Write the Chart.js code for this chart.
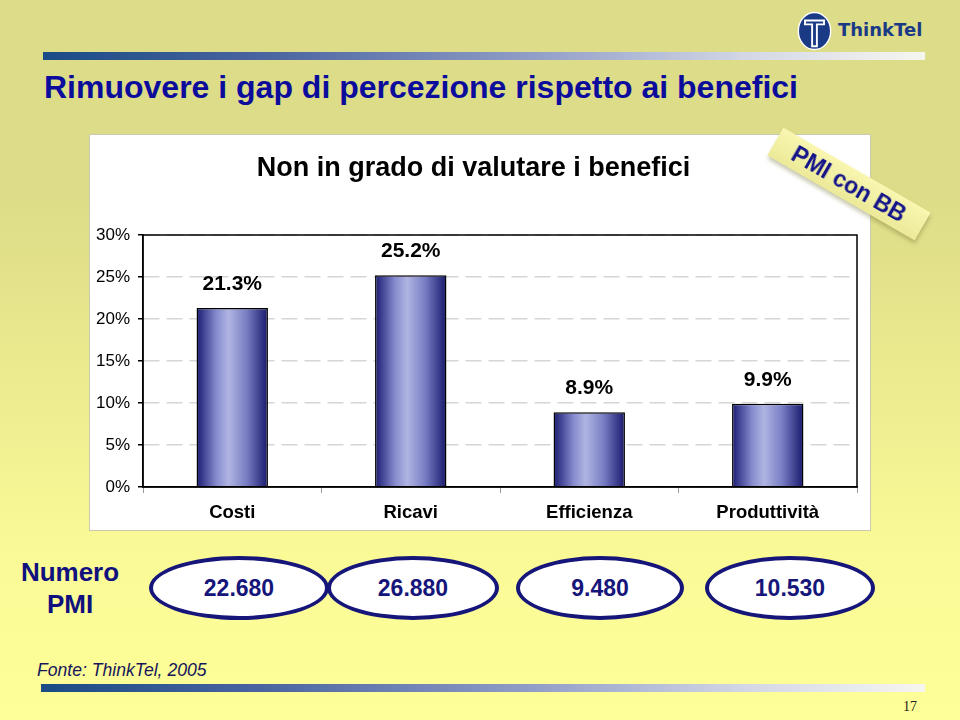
<!DOCTYPE html>
<html lang="it">
<head>
<meta charset="UTF-8">
<title>Rimuovere i gap di percezione rispetto ai benefici</title>
<script src="https://cdn.jsdelivr.net/npm/chart.js"></script>
<style>
    html, body { margin: 0; padding: 0; }
    body {
        width: 960px; height: 720px; position: relative; overflow: hidden;
        font-family: "Liberation Sans", Arial, sans-serif;
        background: linear-gradient(to bottom, #dddc88 0px, #dddc88 200px, #f9f996 540px, #ffff99 720px);
    }
    .bar-line { position: absolute; height: 8px;
        background: linear-gradient(to right, #1a4b85 0%, #4a64a0 25%, #8f9cc6 55%, #d4d8e6 80%, #f6f6f0 100%); }
    #topBar { left: 43px; top: 52px; width: 882px; }
    #bottomBar { left: 41px; top: 684px; width: 884px; }
    #slideTitle { position: absolute; left: 44px; top: 69px; font-size: 32px; font-weight: bold; color: #0c0c9c; white-space: nowrap; }
    #logo { position: absolute; left: 796px; top: 11px; }
    #logoText { position: absolute; left: 838px; top: 19px; font-family: "DejaVu Sans", sans-serif; font-size: 18px;
        font-weight: bold; color: #1b3a86; }
    #panel { position: absolute; left: 90px; top: 135px; width: 780px; height: 395px; background: #fff;
        box-shadow: 0 0 0 1px #c9c9b0; }
    #panel canvas { position: absolute; left: 0; top: 0; }
    #tag { position: absolute; left: 764px; top: 168px; width: 170px; height: 32px; line-height: 32px;
        text-align: center; transform: rotate(30deg); transform-origin: 50% 50%;
        background: linear-gradient(to bottom, #f8f6b0, #ecea98); box-shadow: 2px 3px 4px rgba(120,120,60,0.4);
        font-size: 23px; font-weight: bold; color: #12128a; }
    #numero { position: absolute; left: 5px; top: 556px; width: 130px; text-align: center;
        font-size: 26px; font-weight: bold; line-height: 32px; color: #10107e; }
    .oval { position: absolute; top: 556px; height: 56px; border: 4px solid #16167a; border-radius: 50%;
        background: #fff; text-align: center; line-height: 56px; font-size: 23px; font-weight: bold; color: #16167a; }
    #fonte { position: absolute; left: 37px; top: 660px; font-size: 17.6px; font-style: italic; color: #16165a; }
    #pageNo { position: absolute; left: 903px; top: 699px; font-family: "Liberation Serif", serif; font-size: 14px; color: #222; }
</style>
</head>
<body>
<div id="slideTitle">Rimuovere i gap di percezione rispetto ai benefici</div>
<svg id="logo" width="37" height="40" viewBox="0 0 38 42">
    <ellipse cx="19" cy="21" rx="17" ry="19.5" fill="#1b3a86" stroke="#fff" stroke-width="1.5"/>
    <path d="M8 9 H30 V15 H22.5 V38 H15.5 V15 H8 Z" fill="#fff"/>
    <path d="M10 11 H28 V13 H20.5 V36 H17.5 V13 H10 Z" fill="#1b3a86"/>
</svg>
<div id="logoText">ThinkTel</div>
<div class="bar-line" id="topBar"></div>

<div id="panel"><canvas id="chart" width="780" height="395"></canvas></div>
<div id="tag">PMI con BB</div>

<div id="numero">Numero<br>PMI</div>
<div id="ovals"></div>

<div id="fonte">Fonte: ThinkTel, 2005</div>
<div class="bar-line" id="bottomBar"></div>
<div id="pageNo">17</div>

<script>
    // Data
    const categories = ['Costi', 'Ricavi', 'Efficienza', 'Produttività'];
    const nonValutano = [21.3, 25.2, 8.9, 9.9];
    const numeroPMI = ['22.680', '26.880', '9.480', '10.530'];
    const yTicks = [0, 5, 10, 15, 20, 25, 30];

    // Ovals under the chart (left edge and width of each one)
    const ovalBoxes = [[149, 180], [327, 172], [516, 168], [705, 170]];
    const ovalsDiv = document.getElementById('ovals');
    numeroPMI.forEach((txt, i) => {
        const d = document.createElement('div');
        d.className = 'oval';
        d.style.left = ovalBoxes[i][0] + 'px';
        d.style.width = (ovalBoxes[i][1] - 8) + 'px';
        d.textContent = txt;
        ovalsDiv.appendChild(d);
    });

    // horizontal cylinder-like shading for each bar
    function barGradient(context) {
        const chart = context.chart;
        const { ctx, chartArea } = chart;
        if (!chartArea) return '#6a70c0';
        const x = chart.scales.x.getPixelForValue(context.dataIndex);
        const half = chart.scales.x.width / categories.length * 0.4 / 2;
        const g = ctx.createLinearGradient(x - half, 0, x + half, 0);
        g.addColorStop(0, '#1a1a72');
        g.addColorStop(0.28, '#868cce');
        g.addColorStop(0.45, '#b0b4e2');
        g.addColorStop(0.7, '#787ec4');
        g.addColorStop(1, '#18186c');
        return g;
    }

    const valueLabels = {
        id: 'valueLabels',
        afterDatasetsDraw(chart) {
            const ctx = chart.ctx;
            ctx.save();
            ctx.font = 'bold 21px "Liberation Sans", Arial, sans-serif';
            ctx.fillStyle = '#000';
            ctx.textAlign = 'center';
            ctx.textBaseline = 'middle';
            chart.getDatasetMeta(0).data.forEach((bar, i) => {
                ctx.fillText(nonValutano[i].toFixed(1) + '%', bar.x, bar.y - 24);
            });
            ctx.restore();
        }
    };

    // the plot box is closed on all four sides
    const frame = {
        id: 'frame',
        afterDatasetsDraw(chart) {
            const { ctx, chartArea: a } = chart;
            ctx.save();
            ctx.strokeStyle = '#000';
            ctx.lineWidth = 1.5;
            ctx.strokeRect(a.left, a.top, a.right - a.left, a.bottom - a.top);
            ctx.restore();
        }
    };

    new Chart(document.getElementById('chart'), {
        type: 'bar',
        data: {
            labels: categories,
            datasets: [{
                data: nonValutano,
                backgroundColor: barGradient,
                borderColor: '#000',
                borderWidth: 1.5,
                barPercentage: 0.4,
                categoryPercentage: 1
            }]
        },
        options: {
            responsive: false,
            animation: false,
            layout: { padding: { left: 0, right: 13, top: 0, bottom: 0 } },
            scales: {
                x: {
                    grid: { drawOnChartArea: false, offset: true, tickLength: 6, color: '#999' },
                    border: { color: '#000', width: 1.5 },
                    ticks: { color: '#000', padding: 9,
                        font: { size: 18.5, weight: 'bold', family: '"Liberation Sans", Arial, sans-serif' } },
                    afterFit(scale) { scale.height = 43; }
                },
                y: {
                    min: 0,
                    max: 30,
                    afterBuildTicks(scale) { scale.ticks = yTicks.map(v => ({ value: v })); },
                    grid: { color: '#d6d6d6', lineWidth: 1.5, tickLength: 5, tickColor: '#000', tickBorderDash: [] },
                    border: { color: '#000', width: 1.5, dash: [16, 7] },
                    ticks: { color: '#000', padding: 8, font: { size: 17, family: '"Liberation Sans", Arial, sans-serif' },
                        callback: v => v + '%' },
                    afterFit(scale) { scale.width = 53; }
                }
            },
            plugins: {
                legend: { display: false },
                tooltip: { enabled: false },
                title: {
                    display: true,
                    text: 'Non in grado di valutare i benefici',
                    color: '#000',
                    font: { size: 27, weight: 'bold', family: '"Liberation Sans", Arial, sans-serif', lineHeight: 1.2 },
                    padding: { top: 17, bottom: 50.6 }
                }
            }
        },
        plugins: [valueLabels, frame]
    });
</script>
</body>
</html>
